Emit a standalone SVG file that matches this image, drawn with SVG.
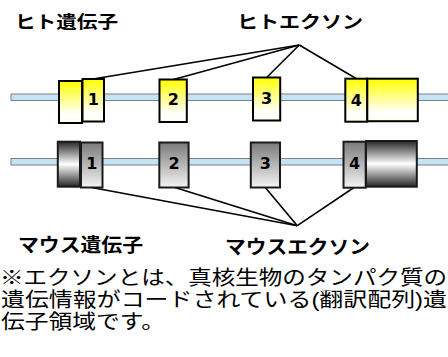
<svg xmlns="http://www.w3.org/2000/svg" width="448" height="357" viewBox="0 0 448 357">
<defs>
<linearGradient id="gy" x1="0" y1="0" x2="0" y2="1">
<stop offset="0" stop-color="#ffff00"/>
<stop offset="0.8" stop-color="#ffffff"/>
<stop offset="1" stop-color="#ffffee"/>
</linearGradient>
<linearGradient id="gg" x1="0" y1="0" x2="0" y2="1">
<stop offset="0" stop-color="#7a7a7a"/>
<stop offset="1" stop-color="#f4f4f4"/>
</linearGradient>
<linearGradient id="gc" x1="0" y1="0" x2="0" y2="1">
<stop offset="0" stop-color="#262626"/>
<stop offset="0.5" stop-color="#ffffff"/>
<stop offset="1" stop-color="#262626"/>
</linearGradient>
</defs>
<style>
.gene{fill:#c4e4f6;stroke:#808080;stroke-width:1}
.hy{fill:url(#gy);stroke:#000;stroke-width:2}
.mg{fill:url(#gg);stroke:#1a1a1a;stroke-width:2}
.mc{fill:url(#gc);stroke:#1a1a1a;stroke-width:2}
.num{font-family:"DejaVu Sans",Verdana,sans-serif;font-weight:bold;font-size:16px;fill:#000;text-anchor:middle}
.lbl{font-family:"Noto Sans CJK JP",sans-serif;font-weight:bold;fill:#000}
.note{font-family:"Liberation Sans","Noto Sans CJK JP",sans-serif;font-size:20px;fill:#000}
.con{stroke:#000;stroke-width:1.6;fill:none}
</style>
<g id="human-gene">
<rect class="gene" x="11" y="94" width="440" height="6.5"/>
</g>
<g id="mouse-gene">
<rect class="gene" x="11" y="158.5" width="440" height="6.5"/>
</g>
<g id="connectors">
<line class="con" x1="299.3" y1="45" x2="93" y2="79"/>
<line class="con" x1="299.3" y1="45" x2="173.5" y2="79.5"/>
<line class="con" x1="299.3" y1="45" x2="266.6" y2="77.5"/>
<line class="con" x1="299.3" y1="45" x2="356.5" y2="78.7"/>
<line class="con" x1="297.3" y1="225.7" x2="91.7" y2="187.5"/>
<line class="con" x1="297.3" y1="225.7" x2="175" y2="187.5"/>
<line class="con" x1="297.3" y1="225.7" x2="265.3" y2="187.5"/>
<line class="con" x1="297.3" y1="225.7" x2="354" y2="187.5"/>
</g>
<g id="h-utr5"><rect class="hy" x="59" y="81" width="23" height="42"/></g>
<g id="h-exon1"><rect class="hy" x="82.5" y="79" width="21.5" height="42.5"/><text class="num" x="93.3" y="105">1</text></g>
<g id="h-exon2"><rect class="hy" x="159.5" y="79.5" width="27.3" height="42.5"/><text class="num" x="173.2" y="105">2</text></g>
<g id="h-exon3"><rect class="hy" x="253" y="77.5" width="27.2" height="43"/><text class="num" x="266.6" y="103.5">3</text></g>
<g id="h-exon4"><rect class="hy" x="345.3" y="78.7" width="22" height="43"/><text class="num" x="356.4" y="105.5">4</text></g>
<g id="h-utr3"><rect class="hy" x="367.3" y="78.7" width="50.5" height="42.5"/></g>
<g id="m-utr5"><rect class="mc" x="57.8" y="141.7" width="22.2" height="45"/></g>
<g id="m-exon1"><rect class="mg" x="81" y="142.5" width="21.5" height="45"/><text class="num" x="91.8" y="169">1</text></g>
<g id="m-exon2"><rect class="mg" x="159.3" y="142.5" width="29.3" height="45"/><text class="num" x="174" y="169">2</text></g>
<g id="m-exon3"><rect class="mg" x="250.8" y="142.5" width="29.2" height="45"/><text class="num" x="265.4" y="169">3</text></g>
<g id="m-exon4"><rect class="mg" x="343.5" y="141.7" width="22.2" height="46"/><text class="num" x="354.6" y="168.5">4</text></g>
<g id="m-utr3"><rect class="mc" x="366" y="141" width="50.8" height="45.7"/></g>
<g id="labels">
<text class="lbl" x="15" y="27.5" font-size="17.5" textLength="103" lengthAdjust="spacingAndGlyphs">ヒト遺伝子</text>
<text class="lbl" x="237" y="27.5" font-size="17.5" textLength="126" lengthAdjust="spacingAndGlyphs">ヒトエクソン</text>
<text class="lbl" x="18" y="252" font-size="19" textLength="125" lengthAdjust="spacingAndGlyphs">マウス遺伝子</text>
<text class="lbl" x="225" y="254" font-size="19" textLength="145" lengthAdjust="spacingAndGlyphs">マウスエクソン</text>
</g>
<g id="note">
<text class="note" x="0" y="284.5" textLength="447" lengthAdjust="spacingAndGlyphs">※エクソンとは、真核生物のタンパク質の</text>
<text class="note" x="1" y="306.5" textLength="446" lengthAdjust="spacingAndGlyphs">遺伝情報がコードされている(翻訳配列)遺</text>
<text class="note" x="1" y="328.5" textLength="164" lengthAdjust="spacingAndGlyphs">伝子領域です。</text>
</g>
</svg>
